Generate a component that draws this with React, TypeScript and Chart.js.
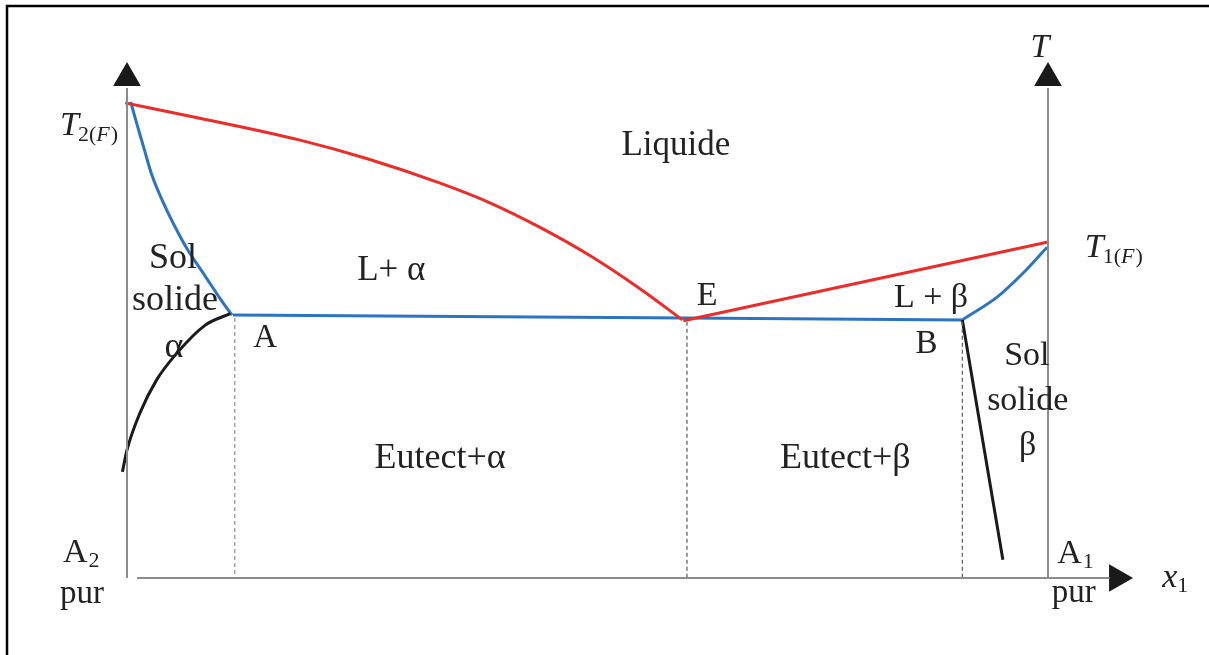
import React, { useEffect, useRef } from "react";
import { Chart, registerables } from "chart.js";

Chart.register(...registerables);

// Composition x1 (0 = A2 pur, 100 = A1 pur) and temperature T (arbitrary units)
const liquidusAlphaX = [-0.2, 7.9, 18.8, 26.1, 34.0, 39.4, 44.8, 50.3, 55.7, 60.3];
const liquidusAlphaT = [99.4, 96.2, 91.6, 87.7, 82.6, 78.5, 73.4, 67.4, 60.5, 54.0];
const solidusAlphaX = [0.4, 1.1, 1.9, 2.7, 3.8, 5.1, 6.6, 8.4, 10.2, 11.4];
const solidusAlphaT = [99.6, 94.8, 89.5, 84.3, 79.1, 73.9, 68.6, 63.4, 58.2, 55.0];
const eutecticX = [11.5, 60.8, 90.7];
const eutecticT = [55.0, 54.4, 54.0];
const liquidusBetaX = [60.4, 100];
const liquidusBetaT = [53.8, 70.3];
const solidusBetaX = [90.7, 94.5, 97.3, 99.9];
const solidusBetaT = [54.0, 58.8, 63.8, 69.2];
const solvusAlphaX = [-0.5, 0, 1.4, 3.2, 5.4, 8.5, 11.2];
const solvusAlphaT = [22.2, 26.8, 34.5, 41.4, 47.0, 52.9, 55.3];
const solvusBetaX = [90.7, 95.1];
const solvusBetaT = [54.0, 3.8];
const dropX = [11.7, 60.8, 90.7];
const dropTopT = [54.4, 53.6, 53.6];
const axisTopT = 102.5;
const xAxisRange = [1.1, 106.7];
const arrowT = 104.6;
const arrowX = 107.5;

// Plain region labels
const labelTexts = ["Liquide", "L+ α", "Sol", "solide", "α", "A", "E", "L + β", "B", "Eutect+α", "Eutect+β", "Sol", "solide", "β", "pur", "pur"];
const labelX = [59.6, 28.7, 5.0, 5.2, 5.1, 15.0, 63.0, 87.3, 86.8, 34.0, 78.0, 97.7, 97.8, 97.8, -4.9, 102.8];
const labelY = [88.5, 62.3, 64.9, 56.1, 46.2, 48.3, 57.1, 56.7, 47.1, 23.0, 23.0, 44.6, 35.1, 25.7, -5.2, -5.0];
const labelSize = [35, 35, 36, 36, 36, 33, 34, 34, 33, 36, 36, 34, 34, 34, 33, 33];

// Labels with subscripts: [main, sub]
const subMain = ["T", "T", "A", "A", "x", "T"];
const subText = ["2(F)", "1(F)", "2", "1", "1", ""];
const subX = [-7.27, 104.0, -6.95, 101.0, 112.4, 98.1];
const subY = [92.7, 67.2, 3.3, 3.1, -1.9, 109.0];
const subItalic = [true, true, false, false, true, true];

const X_MIN = -13.79, X_MAX = 117.48, Y_MIN = -16.11, Y_MAX = 120.92;

const RED = "#eb2c28";
const BLUE = "#2c73c0";
const BLACK = "#1a1a1a";
const GRAY = "#8c8c8c";
const TEXT = "#222222";
const SERIF = "'Liberation Serif', 'DejaVu Serif', serif";

const pts = (xs: number[], ys: number[]) => xs.map((x, i) => ({ x, y: ys[i] }));

const labelPlugin = {
  id: "labels",
  beforeDraw(chart: any) {
    const ctx = chart.ctx;
    ctx.save();
    ctx.strokeStyle = "#000";
    ctx.lineWidth = 2.5;
    ctx.beginPath();
    ctx.moveTo(7, 660);
    ctx.lineTo(7, 6);
    ctx.lineTo(1215, 6);
    ctx.stroke();
    ctx.restore();
  },
  afterDatasetsDraw(chart: any) {
    const ctx = chart.ctx;
    const sx = chart.scales.x;
    const sy = chart.scales.y;
    ctx.save();
    ctx.fillStyle = TEXT;
    ctx.textBaseline = "alphabetic";
    ctx.textAlign = "center";
    labelTexts.forEach((t, i) => {
      ctx.font = `${labelSize[i]}px ${SERIF}`;
      ctx.fillText(t, sx.getPixelForValue(labelX[i]), sy.getPixelForValue(labelY[i]));
    });
    ctx.textAlign = "left";
    subMain.forEach((m, i) => {
      let px = sx.getPixelForValue(subX[i]);
      const py = sy.getPixelForValue(subY[i]);
      ctx.font = `${subItalic[i] ? "italic " : ""}34px ${SERIF}`;
      ctx.fillText(m, px, py);
      px += ctx.measureText(m).width + (subItalic[i] ? -1 : 0);
      const s = subText[i];
      if (!s) return;
      if (s.includes("(")) {
        const parts = [s.slice(0, 2), "F", ")"];
        const it = [false, true, false];
        parts.forEach((p, k) => {
          ctx.font = `${it[k] ? "italic " : ""}22px ${SERIF}`;
          ctx.fillText(p, px, py + 6);
          px += ctx.measureText(p).width + (it[k] ? 1 : 0);
        });
      } else {
        ctx.font = `22px ${SERIF}`;
        ctx.fillText(s, px + 1, py + 5);
      }
    });
    ctx.restore();
  },
};

export default function App() {
  const ref = useRef<HTMLCanvasElement | null>(null);
  useEffect(() => {
    if (!ref.current) return;
    const line = (data: any[], color: string, width: number, smooth = "", dash: number[] = []) => ({
      data,
      showLine: true,
      borderColor: color,
      backgroundColor: color,
      borderWidth: width,
      borderDash: dash,
      pointRadius: 0,
      tension: smooth === "bezier" ? 0.3 : smooth ? 0.4 : 0,
      cubicInterpolationMode: smooth === "monotone" ? "monotone" : "default",
      borderCapStyle: "butt",
    });
    const drops = dropX.map((x, i) =>
      line([{ x, y: dropTopT[i] }, { x, y: 0 }], i === 0 ? "#999" : "#666", 1.3, "", [4, 3])
    );
    const chart = new Chart(ref.current, {
      type: "scatter",
      data: {
        datasets: [
          line([{ x: 0, y: 0 }, { x: 0, y: axisTopT }], GRAY, 2),
          line([{ x: 100, y: 0 }, { x: 100, y: axisTopT }], GRAY, 2),
          line([{ x: xAxisRange[0], y: 0 }, { x: xAxisRange[1], y: 0 }], GRAY, 2),
          ...drops,
          line(pts(solvusAlphaX, solvusAlphaT), BLACK, 3, "monotone"),
          line(pts(solvusBetaX, solvusBetaT), BLACK, 3),
          line(pts(liquidusAlphaX, liquidusAlphaT), RED, 3, "monotone"),
          line(pts(liquidusBetaX, liquidusBetaT), RED, 3),
          line(pts(solidusAlphaX, solidusAlphaT), BLUE, 3, "bezier"),
          line(pts(eutecticX, eutecticT), BLUE, 3),
          line(pts(solidusBetaX, solidusBetaT), BLUE, 3, "monotone"),
          {
            data: [{ x: 0, y: arrowT }, { x: 100, y: arrowT }],
            showLine: false,
            pointStyle: "triangle",
            pointRadius: 16,
            pointBorderWidth: 0,
            pointBackgroundColor: BLACK,
            pointBorderColor: BLACK,
          },
          {
            data: [{ x: arrowX, y: 0 }],
            showLine: false,
            pointStyle: "triangle",
            pointRotation: 90,
            pointRadius: 16,
            pointBorderWidth: 0,
            pointBackgroundColor: BLACK,
            pointBorderColor: BLACK,
          },
        ] as any,
      },
      options: {
        animation: false,
        responsive: true,
        maintainAspectRatio: false,
        events: [],
        layout: { padding: 0, autoPadding: false },
        plugins: { legend: { display: false }, tooltip: { enabled: false } },
        scales: {
          x: { type: "linear", display: false, min: X_MIN, max: X_MAX },
          y: { type: "linear", display: false, min: Y_MIN, max: Y_MAX },
        },
      } as any,
      plugins: [labelPlugin],
    });
    return () => chart.destroy();
  }, []);
  return (
    <div style={{ position: "fixed", left: 0, top: 0, width: 1209, height: 655, background: "#fff" }}>
      <canvas ref={ref} />
    </div>
  );
}
